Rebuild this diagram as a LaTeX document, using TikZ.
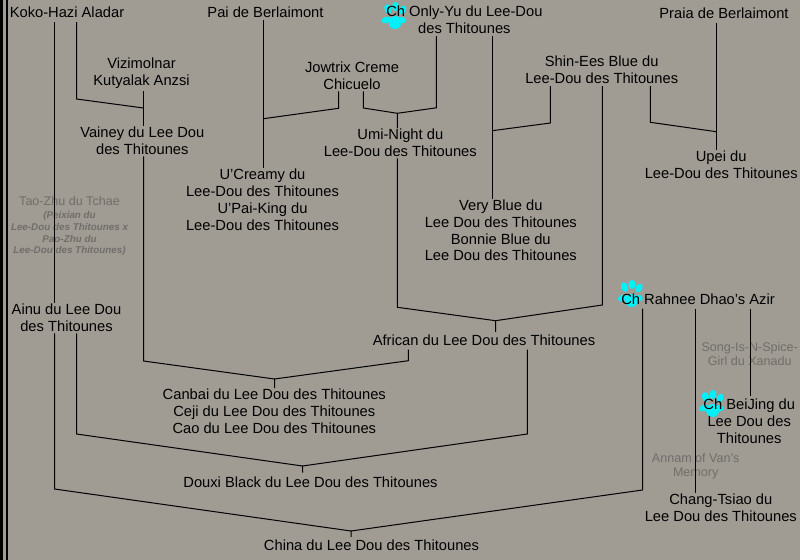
\documentclass[tikz,border=0pt]{standalone}
\usepackage{fontspec}
\setmainfont{Liberation Sans}
\definecolor{cBack}{RGB}{160,156,148}
\definecolor{cFaint}{RGB}{112,110,106}
\definecolor{cPaw}{RGB}{0,240,250}
\newcommand{\bstrut}{\rule{0pt}{7.37pt}}
\newcommand{\dstrut}{\rule[-1.13pt]{0pt}{1.13pt}}
\tikzset{
  dog/.style={inner sep=0pt, align=center, text=black,
              font=\fontsize{8.37}{9.64}\selectfont,
              execute at begin node=\bstrut, execute at end node=\dstrut},
  faint/.style={dog, text=cFaint, font=\fontsize{7.15}{7.94}\selectfont},
  note/.style={inner sep=0pt, align=center, text=cFaint,
               font=\fontsize{5.6}{6.8}\selectfont\bfseries\itshape},
  link/.style={draw=black, line width=0.57pt, line join=miter},
  away/.style={shorten <=1.1pt},
  short/.style={shorten >=1.1pt},
  paw/.pic={
    \fill[cPaw] (1,7) ellipse (6.5 and 6.5);
    \fill[cPaw, rotate around={20:(-6,-6.5)}] (-6,-6.5) ellipse (3.6 and 5);
    \fill[cPaw] (1.5,-9) ellipse (3.5 and 4.6);
    \fill[cPaw, rotate around={-30:(8.5,-5.5)}] (8.5,-5.5) ellipse (3.3 and 4.6);
    \fill[cPaw, rotate around={20:(-8,4.5)}] (-8,4.5) ellipse (4.8 and 3.2);
    \fill[cPaw, rotate around={-15:(8.5,4.5)}] (8.5,4.5) ellipse (3.8 and 3);
  },
}
\begin{document}
\begin{tikzpicture}[x=0.02cm, y=-0.02cm]
\fill[cBack] (0,0) rectangle (800,560);
\useasboundingbox (0,0) rectangle (800,560);
\fill[black] (0,0) rectangle (2.5,560);
\fill[black] (6,0) rectangle (8,560);

\pic at (394,15.5) {paw};
\pic at (630.5,293.5) {paw};
\pic at (711.5,403.5) {paw};

% dogs
\node[dog] (koko) at (67,12.3) {Koko-Hazi Aladar};
\node[dog] (pai) at (265.5,12.3) {Pai de Berlaimont};
\node[dog] (only) at (464.4,21) {Ch Only-Yu du Lee-Dou\\des Thitounes};
\node[dog] (praia) at (724,13.3) {Praia de Berlaimont};
\node[dog] (vizi) at (141.5,73.3) {Vizimolnar\\Kutyalak Anzsi};
\node[dog] (jowtrix) at (352,76.3) {Jowtrix Creme\\Chicuelo};
\node[dog] (shin) at (601.7,71) {Shin-Ees Blue du\\Lee-Dou des Thitounes};
\node[dog] (vainey) at (142.3,141.3) {Vainey du Lee Dou\\des Thitounes};
\node[dog] (umi) at (400.3,143.3) {Umi-Night du\\Lee-Dou des Thitounes};
\node[dog] (upei) at (721.2,165.3) {Upei du\\Lee-Dou des Thitounes};
\node[dog] (ucreamy) at (262.5,200.3) {U'Creamy du\\Lee-Dou des Thitounes\\U'Pai-King du\\Lee-Dou des Thitounes};
\node[dog] (very) at (500.8,231.2) {Very Blue du\\Lee Dou des Thitounes\\Bonnie Blue du\\Lee Dou des Thitounes};
\node[dog] (ainu) at (66.5,318.3) {Ainu du Lee Dou\\des Thitounes};
\node[dog] (rahnee) at (698,298.8) {Ch Rahnee Dhao's Azir};
\node[dog] (african) at (484,339.8) {African du Lee Dou des Thitounes};
\node[dog] (canbai) at (274.3,411.8) {Canbai du Lee Dou des Thitounes\\Ceji du Lee Dou des Thitounes\\Cao du Lee Dou des Thitounes};
\node[dog] (beijing) at (749.2,421.8) {Ch BeiJing du\\Lee Dou des\\Thitounes};
\node[dog] (douxi) at (310.5,482.3) {Douxi Black du Lee Dou des Thitounes};
\node[dog] (chang) at (720.8,508.3) {Chang-Tsiao du\\Lee Dou des Thitounes};
\node[dog] (china) at (371.5,544.8) {China du Lee Dou des Thitounes};

% greyed out
\node[faint] (tao) at (69.5,199.8) {Tao-Zhu du Tchae};
\node[note] (peixian) at (69.5,233.5) {(Peixian du\\Lee-Dou des Thitounes x\\Pao-Zhu du\\Lee-Dou des Thitounes)};
\node[faint] (song) at (749.7,355) {Song-Is-N-Spice-\\Girl du Xanadu};
\node[faint] (annam) at (695.7,466.3) {Annam of Van's\\Memory};

% joins
\coordinate (jvainey) at (143.5,108);
\coordinate (jucreamy) at (263.5,118.7);
\coordinate (jumi) at (397.3,113.3);
\coordinate (jvery) at (492.3,130.7);
\coordinate (jupei) at (716.3,131.7);
\coordinate (jafrican) at (495.5,320.7);
\coordinate (jcanbai) at (274.5,379);
\coordinate (jdouxi) at (302.5,466);
\coordinate (jchina) at (351,531);

\coordinate (kokoL) at (54.5,489);
\coordinate (kokoR) at (76.5,99);
\coordinate (ainuR) at (76.5,434);
\coordinate (vaineyB) at (143.5,361);
\coordinate (jowL) at (338.6,108.3);
\coordinate (jowR) at (363.3,108);
\coordinate (onlyL) at (436.4,107.8);
\coordinate (shinL) at (550.4,123);
\coordinate (shinM) at (602.3,305);
\coordinate (shinR) at (650.3,122.3);
\coordinate (umiB) at (397.4,307.3);
\coordinate (africanL) at (408.4,360.7);
\coordinate (africanR) at (527.3,434);
\coordinate (rahneeL) at (642.5,490);
\coordinate (rahneeM) at (695.3,400);
\coordinate (rahneeR) at (750.3,400);

\draw[link, away] (koko.south -| kokoL) -- (ainu.north -| kokoL);
\draw[link] (ainu.south -| kokoL) -- (kokoL) -- (jchina) -- (china.north -| jchina);
\draw[link, away] (koko.south -| kokoR) -- (kokoR) -- (jvainey);
\draw[link, away] (vizi.south -| jvainey) -- (vainey.north -| jvainey);
\draw[link] (vainey.south -| vaineyB) -- (vaineyB) -- (jcanbai) -- (canbai.north -| jcanbai);
\draw[link, away] (african.south -| africanL) -- (africanL) -- (jcanbai);
\draw[link, short] (ainu.south -| ainuR) -- (ainuR) -- (jdouxi) -- (douxi.north -| jdouxi);
\draw[link, away] (african.south -| africanR) -- (africanR) -- (jdouxi);
\draw[link] (pai.south -| jucreamy) -- (ucreamy.north -| jucreamy);
\draw[link] (jowtrix.south -| jowL) -- (jowL) -- (jucreamy);
\draw[link] (jowtrix.south -| jowR) -- (jowR) -- (jumi) -- (umi.north -| jumi);
\draw[link] (only.south -| onlyL) -- (onlyL) -- (jumi);
\draw[link] (only.south -| jvery) -- (very.north -| jvery);
\draw[link] (shin.south -| shinL) -- (shinL) -- (jvery);
\draw[link] (shin.south -| shinR) -- (shinR) -- (jupei);
\draw[link, away] (praia.south -| jupei) -- (upei.north -| jupei);
\draw[link] (umi.south -| umiB) -- (umiB) -- (jafrican) -- (african.north -| jafrican);
\draw[link] (shin.south -| shinM) -- (shinM) -- (jafrican);
\draw[link, away] (rahnee.south -| rahneeL) -- (rahneeL) -- (jchina);
\draw[link, away] (rahnee.south -| rahneeM) -- (chang.north -| rahneeM);
\draw[link, away, short] (rahnee.south -| rahneeR) -- (beijing.north -| rahneeR);
\end{tikzpicture}
\end{document}
